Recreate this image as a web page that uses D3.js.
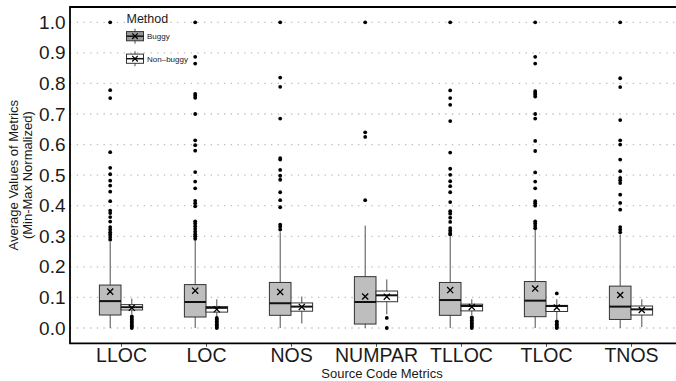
<!DOCTYPE html>
<html>
<head>
<meta charset="utf-8">
<script src="https://cdn.jsdelivr.net/npm/d3@7/dist/d3.min.js"></script>
<style>
  html, body { margin: 0; padding: 0; background: #fff; }
  svg { display: block; font-family: "Liberation Sans", Arial, Helvetica, sans-serif; }
</style>
</head>
<body>
<svg id="chart" width="676" height="381"></svg>
<script>
// ---------------- DATA ----------------
const categories = ["LLOC", "LOC", "NOS", "NUMPAR", "TLLOC", "TLOC", "TNOS"];
const methods = ["Buggy", "Non-buggy"];
const methodLabels = ["Buggy", "Non\u2013buggy"];
const yTicks = [0, 0.1, 0.2, 0.3, 0.4, 0.5, 0.6, 0.7, 0.8, 0.9, 1.0];

// Buggy
const buggyQ1     = [0.0425, 0.036, 0.0415, 0.013, 0.0415, 0.037, 0.028];
const buggyMedian = [0.088, 0.085, 0.081, 0.085, 0.0915, 0.0895, 0.070];
const buggyQ3     = [0.1405, 0.142, 0.149, 0.168, 0.149, 0.152, 0.137];
const buggyMean   = [0.119, 0.122, 0.118, 0.103, 0.124, 0.129, 0.108];
const buggyLow    = [0.0, 0.0, 0.0, 0.0, 0.0, 0.0, 0.0];
const buggyHigh   = [0.281, 0.286, 0.313, 0.335, 0.300, 0.320, 0.306];
const buggyOutliers = [
  [1.0, 0.778, 0.752, 0.575, 0.524, 0.503, 0.482, 0.466, 0.446, 0.415, 0.384, 0.376, 0.363, 0.348, 0.330, 0.322, 0.313, 0.306, 0.298, 0.289],
  [1.0, 0.887, 0.865, 0.766, 0.760, 0.753, 0.700, 0.614, 0.598, 0.580, 0.510, 0.479, 0.457, 0.416, 0.408, 0.398, 0.349, 0.342, 0.333, 0.324, 0.315, 0.307, 0.300, 0.292],
  [1.0, 0.819, 0.789, 0.685, 0.556, 0.551, 0.517, 0.498, 0.485, 0.444, 0.418, 0.395, 0.338, 0.331, 0.322],
  [1.0, 0.640, 0.625, 0.418],
  [1.0, 0.777, 0.752, 0.730, 0.677, 0.574, 0.521, 0.501, 0.480, 0.464, 0.444, 0.412, 0.382, 0.374, 0.361, 0.347, 0.327, 0.319, 0.311, 0.306],
  [1.0, 0.887, 0.865, 0.775, 0.770, 0.764, 0.757, 0.700, 0.685, 0.612, 0.579, 0.509, 0.479, 0.457, 0.415, 0.408, 0.400, 0.349, 0.342, 0.334, 0.326],
  [1.0, 0.817, 0.788, 0.680, 0.614, 0.600, 0.551, 0.513, 0.491, 0.483, 0.474, 0.436, 0.409, 0.387, 0.330, 0.322, 0.313]
];

// Non-buggy
const nonBuggyQ1     = [0.059, 0.052, 0.055, 0.086, 0.056, 0.054, 0.0425];
const nonBuggyMedian = [0.068, 0.066, 0.070, 0.107, 0.072, 0.072, 0.061];
const nonBuggyQ3     = [0.0765, 0.070, 0.082, 0.121, 0.078, 0.074, 0.072];
const nonBuggyMean   = [0.066, 0.061, 0.069, 0.1026, 0.069, 0.067, 0.059];
const nonBuggyLow    = [0.045, 0.038, 0.015, 0.045, 0.042, 0.028, 0.003];
const nonBuggyHigh   = [0.096, 0.094, 0.103, 0.159, 0.094, 0.094, 0.094];
const nonBuggyOutliers = [
  [0.038, 0.033, 0.028, 0.023, 0.018, 0.013, 0.008, 0.004, 0.0],
  [0.033, 0.028, 0.022, 0.017, 0.012, 0.007, 0.003, 0.0],
  [],
  [0.033, 0.0],
  [0.035, 0.030, 0.025, 0.020, 0.015, 0.010, 0.005, 0.0],
  [0.113, 0.022, 0.017, 0.012, 0.007, 0.003, 0.0],
  []
];

// ---------------- BUILD ----------------
const series = [
  { method: methods[0], q1: buggyQ1, med: buggyMedian, q3: buggyQ3, mean: buggyMean, lo: buggyLow, hi: buggyHigh, out: buggyOutliers, fill: "#bebebe" },
  { method: methods[1], q1: nonBuggyQ1, med: nonBuggyMedian, q3: nonBuggyQ3, mean: nonBuggyMean, lo: nonBuggyLow, hi: nonBuggyHigh, out: nonBuggyOutliers, fill: "#ffffff" }
];
const boxes = [];
series.forEach(s => categories.forEach((c, i) => {
  boxes.push({ cat: c, method: s.method, fill: s.fill, q1: s.q1[i], med: s.med[i], q3: s.q3[i], mean: s.mean[i], lo: s.lo[i], hi: s.hi[i], out: s.out[i] });
}));

const svg = d3.select("#chart");
const panel = { left: 70, right: 682, top: 7, bottom: 343.3 };

const x = d3.scalePoint().domain(categories).range([121, 631]);
const sub = d3.scaleBand().domain(methods).range([-21.6, 21.6]).paddingInner(0);
const y = d3.scaleLinear().domain([-0.05, 1.05]).range([panel.bottom, panel.top]);

// grid
svg.append("g").selectAll("line").data(yTicks).join("line")
  .attr("x1", panel.left).attr("x2", panel.right)
  .attr("y1", d => y(d)).attr("y2", d => y(d))
  .attr("stroke", "#bdbdbd").attr("stroke-width", 1.3)
  .attr("stroke-dasharray", "1.3,5.4");

// boxes
const g = svg.append("g");
const bw = sub.bandwidth();
const bx = d => x(d.cat) + sub(d.method);

g.selectAll(".whisk").data(boxes).join("line")
  .attr("x1", d => bx(d) + bw / 2).attr("x2", d => bx(d) + bw / 2)
  .attr("y1", d => y(d.hi)).attr("y2", d => y(d.lo))
  .attr("stroke", "#4d4d4d").attr("stroke-width", 1);

g.selectAll(".box").data(boxes).join("rect")
  .attr("x", d => bx(d)).attr("width", bw)
  .attr("y", d => y(d.q3)).attr("height", d => y(d.q1) - y(d.q3))
  .attr("fill", d => d.fill).attr("stroke", "#333").attr("stroke-width", 1);

g.selectAll(".med").data(boxes).join("line")
  .attr("x1", d => bx(d)).attr("x2", d => bx(d) + bw)
  .attr("y1", d => y(d.med)).attr("y2", d => y(d.med))
  .attr("stroke", "#111").attr("stroke-width", 2);

g.selectAll(".mean").data(boxes).join("path")
  .attr("transform", d => `translate(${bx(d) + bw / 2},${y(d.mean)})`)
  .attr("d", d3.symbol().type(d3.symbolX).size(26))
  .attr("fill", "none").attr("stroke", "#000").attr("stroke-width", 1.3);

const outs = boxes.flatMap(d => d.out.map(v => ({ cx: bx(d) + bw / 2, v })));
g.selectAll(".out").data(outs).join("circle")
  .attr("cx", d => d.cx).attr("cy", d => y(d.v)).attr("r", 1.9)
  .attr("fill", "#000");

// y axis labels
const yAxis = d3.axisLeft(y).tickValues(yTicks).tickFormat(d3.format(".1f")).tickSize(0).tickPadding(4.5);
const ya = svg.append("g").attr("transform", `translate(${panel.left},0)`).call(yAxis);
ya.select(".domain").remove();
ya.selectAll("text").attr("font-size", 19).attr("fill", "#1a1a1a")
  .attr("font-family", "Liberation Sans, Arial, sans-serif");

// x axis
const xAxis = d3.axisBottom(x).tickSize(3.5).tickPadding(1.2);
const xa = svg.append("g").attr("transform", `translate(0,${panel.bottom})`).call(xAxis);
xa.select(".domain").remove();
xa.selectAll("line").attr("stroke", "#555");
xa.selectAll("text").attr("font-size", 19.5).attr("fill", "#1a1a1a")
  .attr("font-family", "Liberation Sans, Arial, sans-serif");

// panel border (top, left, bottom)
svg.append("path")
  .attr("d", `M${panel.right},${panel.top}H${panel.left}V${panel.bottom}H${panel.right}`)
  .attr("fill", "none").attr("stroke", "#000").attr("stroke-width", 1.8);

// axis titles
svg.append("text").attr("x", 382).attr("y", 377.5).attr("text-anchor", "middle")
  .attr("font-size", 13).attr("fill", "#1a1a1a").text("Source Code Metrics");
const yt = svg.append("g").attr("transform", `translate(0,${(panel.top + panel.bottom) / 2}) rotate(-90)`);
yt.append("text").attr("x", 0).attr("y", 18.3).attr("text-anchor", "middle")
  .attr("font-size", 13).attr("fill", "#1a1a1a").text("Average Values of Metrics");
yt.append("text").attr("x", 0).attr("y", 31.8).attr("text-anchor", "middle")
  .attr("font-size", 13).attr("fill", "#1a1a1a").text("(Min-Max Normalized)");

// legend
const lg = svg.append("g").attr("transform", "translate(126.5,0)");
lg.append("text").attr("x", 0).attr("y", 23).attr("font-size", 12.5).attr("fill", "#1a1a1a").text("Method");
const keyFill = ["#9a9a9a", "#ffffff"];
const keyCy = [36.2, 58.7];
methods.forEach((m, i) => {
  const k = lg.append("g").attr("transform", `translate(0,${keyCy[i]})`);
  k.append("line").attr("x1", 8.5).attr("x2", 8.5).attr("y1", -7.5).attr("y2", 7.5)
    .attr("stroke", "#4d4d4d").attr("stroke-width", 1);
  k.append("rect").attr("x", 0).attr("y", -4.6).attr("width", 17).attr("height", 9.2)
    .attr("fill", keyFill[i]).attr("stroke", "#333").attr("stroke-width", 1);
  k.append("line").attr("x1", 0).attr("x2", 17).attr("y1", 0).attr("y2", 0)
    .attr("stroke", "#111").attr("stroke-width", 1.5);
  k.append("path").attr("d", d3.symbol().type(d3.symbolX).size(22))
    .attr("transform", "translate(8.5,0)")
    .attr("fill", "none").attr("stroke", "#000").attr("stroke-width", 1.2);
  k.append("text").attr("x", 20.5).attr("y", 2.8).attr("font-size", 8)
    .attr("fill", "#1a1a1a").text(methodLabels[i]);
});
</script>
</body>
</html>
